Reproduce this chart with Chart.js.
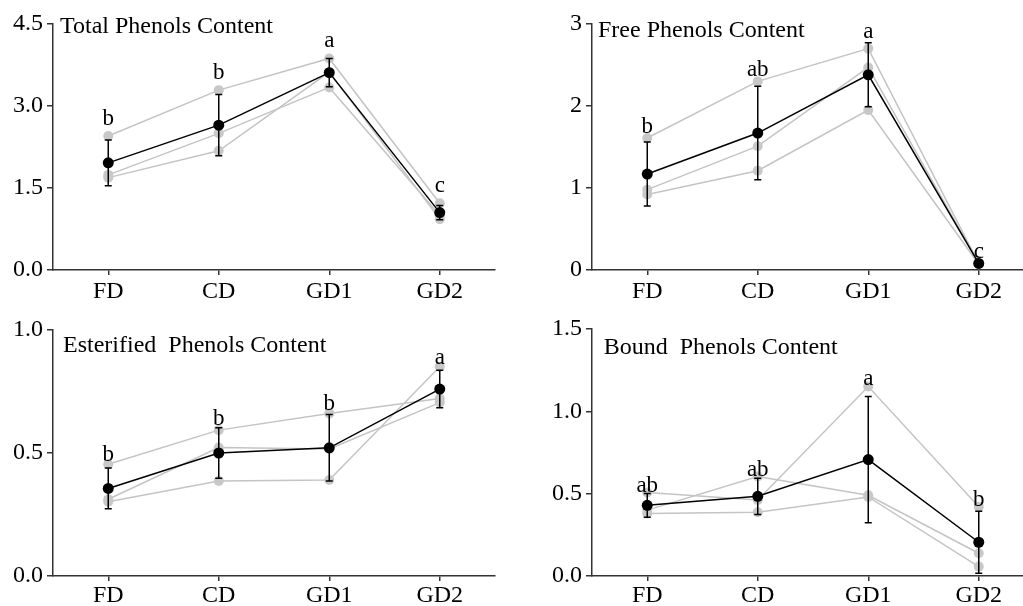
<!DOCTYPE html>
<html>
<head>
<meta charset="utf-8">
<script src="https://cdn.jsdelivr.net/npm/chart.js@4.4.1/dist/chart.umd.min.js"></script>
<style>
  html, body { margin: 0; padding: 0; background: #fff; overflow: hidden; width: 1023px; height: 606px; }
  canvas { position: absolute; }
</style>
</head>
<body>
<canvas id="total" width="512" height="303" style="left:0px;top:0px"></canvas>
<canvas id="free" width="540" height="303" style="left:512px;top:0px"></canvas>
<canvas id="ester" width="512" height="303" style="left:0px;top:303px"></canvas>
<canvas id="bound" width="540" height="303" style="left:512px;top:303px"></canvas>
<script>
// categories shared by every panel
const categories = ['FD', 'CD', 'GD1', 'GD2'];

// Total phenols
const totalRep1 = [2.45, 3.29, 3.87, 1.22];
const totalRep2 = [1.74, 2.50, 3.34, 1.00];
const totalRep3 = [1.69, 2.18, 3.62, 0.93];
const totalMean = [1.96, 2.65, 3.61, 1.05];
const totalSd = [0.42, 0.56, 0.26, 0.13];
const totalLetters = ['b', 'b', 'a', 'c'];
const totalTicks = ['0.0', '1.5', '3.0', '4.5'];

// Free phenols
const freeRep1 = [1.61, 2.30, 2.70, 0.08];
const freeRep2 = [0.98, 1.51, 2.47, 0.08];
const freeRep3 = [0.92, 1.21, 1.95, 0.07];
const freeMean = [1.17, 1.67, 2.38, 0.08];
const freeSd = [0.39, 0.57, 0.39, 0.01];
const freeLetters = ['b', 'ab', 'a', 'c'];
const freeTicks = ['0', '1', '2', '3'];

// Esterified phenols
const esterRep1 = [0.454, 0.593, 0.661, 0.722];
const esterRep2 = [0.312, 0.522, 0.516, 0.705];
const esterRep3 = [0.302, 0.386, 0.390, 0.851];
const esterMean = [0.356, 0.500, 0.521, 0.760];
const esterSd = [0.083, 0.103, 0.135, 0.076];
const esterLetters = ['b', 'b', 'b', 'a'];
const esterTicks = ['0.0', '0.5', '1.0'];

// Bound phenols
const boundRep1 = [0.507, 0.462, 1.151, 0.420];
const boundRep2 = [0.400, 0.604, 0.490, 0.138];
const boundRep3 = [0.380, 0.387, 0.480, 0.057];
const boundMean = [0.429, 0.484, 0.707, 0.205];
const boundSd = [0.072, 0.110, 0.383, 0.188];
const boundLetters = ['ab', 'ab', 'a', 'b'];
const boundTicks = ['0.0', '0.5', '1.0', '1.5'];

const serif = 'Liberation Serif';
const axisColor = '#333';

// error bars go under the mean dataset (index 0), over the grey replicates
const errorBars = {
  id: 'errorBars',
  beforeDatasetDraw(chart, args) {
    if (args.index !== 0) return;
    const ds = chart.data.datasets[0];
    const y = chart.scales.y;
    const ctx = chart.ctx;
    ctx.save();
    ctx.strokeStyle = '#000';
    ctx.lineWidth = 1.5;
    args.meta.data.forEach((pt, i) => {
      const top = y.getPixelForValue(ds.data[i] + ds.errors[i]);
      const bot = y.getPixelForValue(ds.data[i] - ds.errors[i]);
      ctx.beginPath();
      ctx.moveTo(pt.x, top); ctx.lineTo(pt.x, bot);
      ctx.moveTo(pt.x - 3.5, top); ctx.lineTo(pt.x + 3.5, top);
      ctx.moveTo(pt.x - 3.5, bot); ctx.lineTo(pt.x + 3.5, bot);
      ctx.stroke();
    });
    ctx.restore();
  }
};

// significance letters + panel title
const annotations = {
  id: 'annotations',
  afterDatasetsDraw(chart, args, opts) {
    const ctx = chart.ctx;
    const ds = chart.data.datasets;
    const y = chart.scales.y;
    const area = chart.chartArea;
    ctx.save();
    ctx.fillStyle = '#000';
    ctx.textBaseline = 'alphabetic';
    ctx.font = '23px "' + serif + '"';
    ctx.textAlign = 'center';
    chart.getDatasetMeta(0).data.forEach((pt, i) => {
      let top = ds[0].data[i] + ds[0].errors[i];
      ds.forEach(d => { top = Math.max(top, d.data[i]); });
      ctx.fillText(ds[0].letters[i], pt.x, y.getPixelForValue(top) - opts.gap);
    });
    ctx.font = '24px "' + serif + '"';
    ctx.textAlign = 'left';
    ctx.fillText(opts.title, area.left + opts.dx, area.top + opts.dy);
    ctx.restore();
  }
};

function makeChart(id, reps, mean, sd, letters, ticks, yMax, step, layout) {
  const grey = reps.map(r => ({
    data: r,
    borderColor: '#c4c4c4',
    borderWidth: 1.5,
    pointRadius: 5,
    pointBackgroundColor: '#c8c8c8',
    pointBorderWidth: 0,
    clip: false
  }));
  return new Chart(document.getElementById(id), {
    type: 'line',
    data: {
      labels: categories,
      datasets: [{
        data: mean,
        errors: sd,
        letters: letters,
        borderColor: '#000',
        borderWidth: 1.5,
        pointRadius: 5.5,
        pointBackgroundColor: '#000',
        pointBorderWidth: 0,
        clip: false
      }].concat(grey)
    },
    options: {
      responsive: false,
      animation: false,
      events: [],
      layout: { padding: { top: layout.top, right: layout.right, left: 0, bottom: 0 } },
      plugins: {
        legend: { display: false },
        tooltip: { enabled: false },
        annotations: { title: layout.title, dx: layout.dx, dy: layout.dy, gap: layout.gap }
      },
      scales: {
        x: {
          offset: true,
          grid: { drawOnChartArea: false, tickLength: 5, color: axisColor, lineWidth: 1.5 },
          border: { color: axisColor, width: 1.5 },
          ticks: { color: '#000', font: { family: serif, size: 24 }, padding: layout.xPad, maxRotation: 0, autoSkip: false },
          afterFit: s => { s.height = layout.xHeight; }
        },
        y: {
          min: 0,
          max: yMax,
          grid: { drawOnChartArea: false, tickLength: 6, color: axisColor, lineWidth: 1.5 },
          border: { color: axisColor, width: 1.5 },
          ticks: { stepSize: step, color: '#000', font: { family: serif, size: 24 }, padding: 4,
                   callback: (v, i) => ticks[i] },
          afterFit: s => { s.width = layout.yWidth; }
        }
      }
    },
    plugins: [errorBars, annotations]
  });
}

makeChart('total', [totalRep1, totalRep2, totalRep3], totalMean, totalSd, totalLetters, totalTicks, 4.5, 1.5,
  { top: 24, right: 17, yWidth: 53, xHeight: 33, xPad: 2, title: 'Total Phenols Content', dx: 7, dy: 8.5, gap: 11 });
makeChart('free', [freeRep1, freeRep2, freeRep3], freeMean, freeSd, freeLetters, freeTicks, 3, 1,
  { top: 24, right: 18, yWidth: 80, xHeight: 33, xPad: 2, title: 'Free Phenols Content', dx: 6, dy: 12.7, gap: 5 });
makeChart('ester', [esterRep1, esterRep2, esterRep3], esterMean, esterSd, esterLetters, esterTicks, 1, 0.5,
  { top: 27, right: 17, yWidth: 53, xHeight: 30, xPad: 0, title: 'Esterified  Phenols Content', dx: 10, dy: 22.3, gap: 3 });
makeChart('bound', [boundRep1, boundRep2, boundRep3], boundMean, boundSd, boundLetters, boundTicks, 1.5, 0.5,
  { top: 26, right: 18, yWidth: 80, xHeight: 30, xPad: 0, title: 'Bound  Phenols Content', dx: 11.7, dy: 24.7, gap: 1 });
</script>
</body>
</html>
